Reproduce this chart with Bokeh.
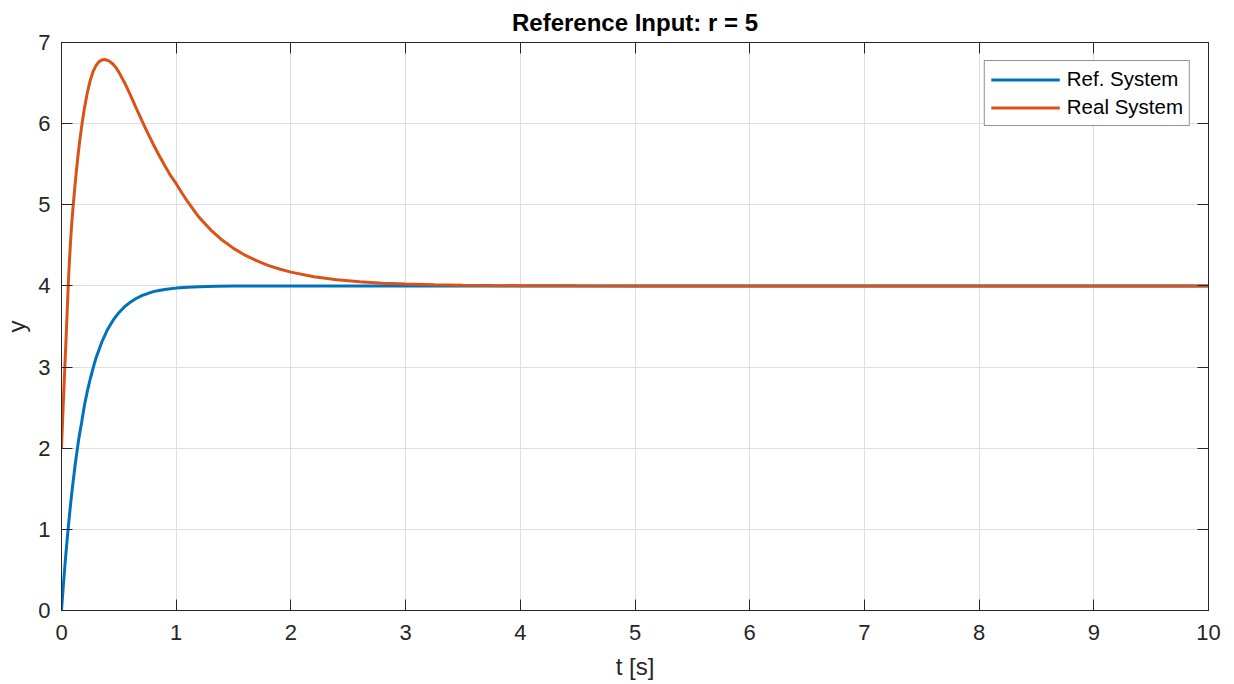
from bokeh.plotting import figure
from bokeh.models import LinearAxis, FixedTicker, Range1d
from bokeh.embed import file_html
from bokeh.resources import INLINE

# ---- data ----
t_ref = [0.0, 0.01, 0.02, 0.03, 0.04, 0.05, 0.06, 0.07, 0.08, 0.09, 0.1, 0.12, 0.15, 0.175,
         0.2, 0.225, 0.25, 0.275, 0.3, 0.35, 0.4, 0.45, 0.5, 0.55, 0.6, 0.65, 0.7, 0.75,
         0.8, 0.85, 0.9, 0.95, 1.0, 1.1, 1.2, 1.35, 1.5, 1.75, 2.0, 3.0, 4.0, 5.0, 6.0,
         7.0, 8.0, 9.0, 10.0]
y_ref = [0.0, 0.195, 0.38, 0.557, 0.725, 0.885, 1.037, 1.181, 1.32, 1.45, 1.574, 1.805, 2.11, 2.315,
         2.53, 2.70, 2.85, 2.984, 3.11, 3.304, 3.46, 3.578, 3.67, 3.744, 3.80, 3.845, 3.88, 3.906,
         3.93, 3.943, 3.955, 3.966, 3.973, 3.984, 3.99, 3.995, 3.998, 3.999, 4.0, 4.0, 4.0, 4.0, 4.0,
         4.0, 4.0, 4.0, 4.0]

t_real = [0.0, 0.01, 0.02, 0.03, 0.04, 0.05, 0.06, 0.07, 0.08, 0.09, 0.1, 0.115, 0.13, 0.145,
          0.16, 0.18, 0.2, 0.225, 0.25, 0.275, 0.3, 0.325, 0.35, 0.375, 0.4, 0.425, 0.45,
          0.475, 0.5, 0.55, 0.6, 0.65, 0.7, 0.75, 0.8, 0.85, 0.9, 0.95, 1.0, 1.05, 1.1, 1.15,
          1.2, 1.3, 1.4, 1.5, 1.6, 1.7, 1.8, 1.9, 2.0, 2.2, 2.4, 2.6, 2.8, 3.0, 3.25, 3.5,
          3.75, 4.0, 4.5, 5.0, 6.0, 7.0, 8.0, 9.0, 10.0]
y_real = [2.0, 2.36, 2.7, 3.03, 3.36, 3.70, 4.05, 4.33, 4.57, 4.78, 4.96, 5.2, 5.42, 5.62,
          5.80, 6.01, 6.19, 6.38, 6.53, 6.64, 6.715, 6.76, 6.785, 6.79, 6.782, 6.762, 6.732,
          6.69, 6.635, 6.505, 6.355, 6.195, 6.04, 5.889, 5.746, 5.611, 5.483, 5.362, 5.26, 5.145,
          5.038, 4.939, 4.845, 4.691, 4.566, 4.463, 4.379, 4.311, 4.254, 4.208, 4.17, 4.114, 4.077,
          4.052, 4.034, 4.023, 4.014, 4.009, 4.005, 4.003, 4.001, 4.0, 4.0, 4.0, 4.0, 4.0, 4.0]

x_ticks = [0, 1, 2, 3, 4, 5, 6, 7, 8, 9, 10]
y_ticks = [0, 1, 2, 3, 4, 5, 6, 7]

FONT = "Liberation Sans"
TXT = "#262626"

p = figure(width=1234, height=684, output_backend="svg", toolbar_location=None,
           x_range=Range1d(0, 10), y_range=Range1d(0, 7),
           min_border_left=61, min_border_right=26, min_border_top=42, min_border_bottom=74,
           title="Reference Input: r = 5")

p.title.align = "center"
p.title.text_font = FONT
p.title.text_font_size = "24px"
p.title.text_font_style = "bold"
p.title.text_color = "#000000"
p.title.standoff = 13
p.title.offset = 0

p.outline_line_color = TXT
p.outline_line_width = 1
p.outline_line_alpha = 1

p.line(t_ref, y_ref, line_color="#0072BD", line_width=3, legend_label="Ref. System")
p.line(t_real, y_real, line_color="#D95319", line_width=3, legend_label="Real System")

for ax, ticks in ((p.xaxis[0], x_ticks), (p.yaxis[0], y_ticks)):
    ax.ticker = FixedTicker(ticks=ticks)
    ax.major_tick_in = 11
    ax.major_tick_out = 0
    ax.minor_tick_line_color = None
    ax.axis_line_color = TXT
    ax.major_tick_line_color = TXT
    ax.major_label_text_font = FONT
    ax.major_label_text_font_size = "22px"
    ax.major_label_text_color = TXT
    ax.axis_label_text_font = FONT
    ax.axis_label_text_font_size = "24px"
    ax.axis_label_text_font_style = "normal"
    ax.axis_label_text_color = TXT

p.xaxis[0].axis_label = "t [s]"
p.yaxis[0].axis_label = "y"
p.xaxis[0].major_label_standoff = 14
p.yaxis[0].major_label_standoff = 11
p.xaxis[0].axis_label_standoff = 10
p.yaxis[0].axis_label_standoff = 5

# box ticks on top and right
for loc, ticks in (("above", x_ticks), ("right", y_ticks)):
    ax = LinearAxis(ticker=FixedTicker(ticks=ticks))
    ax.major_tick_in = 11
    ax.major_tick_out = 0
    ax.minor_tick_line_color = None
    ax.axis_line_color = TXT
    ax.major_tick_line_color = TXT
    ax.major_label_text_font_size = "0px"
    ax.major_label_standoff = 0
    p.add_layout(ax, loc)

p.xgrid.ticker = FixedTicker(ticks=x_ticks)
p.ygrid.ticker = FixedTicker(ticks=y_ticks)
p.grid.grid_line_color = "#dfdfdf"
p.grid.grid_line_width = 1

leg = p.legend[0]
leg.location = "top_right"
leg.margin = 18
leg.padding = 6
leg.spacing = 4
leg.glyph_width = 69
leg.glyph_height = 23
leg.label_height = 23
leg.label_standoff = 7
leg.label_text_font = FONT
leg.label_text_font_size = "20.5px"
leg.label_text_color = "#000000"
leg.border_line_color = TXT
leg.border_line_width = 1
leg.background_fill_alpha = 1

open("out.html", "w").write(file_html(p, INLINE))
